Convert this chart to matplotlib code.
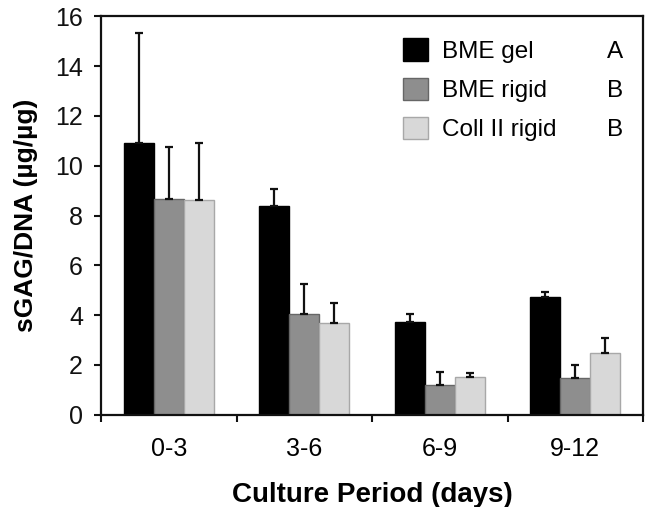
import matplotlib
matplotlib.use("Agg")
import matplotlib.pyplot as plt
import numpy as np

categories = ["0-3", "3-6", "6-9", "9-12"]
series_names = ["BME gel", "BME rigid", "Coll II rigid"]
group_letters = ["A", "B", "B"]
bme_gel = [10.93, 8.39, 3.72, 4.72]
bme_gel_err = [4.39, 0.68, 0.31, 0.19]
bme_rigid = [8.67, 4.03, 1.20, 1.46]
bme_rigid_err = [2.10, 1.21, 0.51, 0.53]
coll_rigid = [8.63, 3.67, 1.52, 2.46]
coll_rigid_err = [2.30, 0.81, 0.16, 0.63]
y_ticks = [0, 2, 4, 6, 8, 10, 12, 14, 16]

plt.rcParams['font.family'] = ['Liberation Sans', 'DejaVu Sans']

fig = plt.figure(figsize=(6.45, 5.07), dpi=100)
ax = fig.add_axes([0.1566, 0.1824, 0.8403, 0.7851])

x = np.arange(len(categories)) + 0.5
w = 0.222
fills = ["#000000", "#8e8e8e", "#d8d8d8"]
edges = ["#000000", "#666666", "#a8a8a8"]
vals = [bme_gel, bme_rigid, coll_rigid]
errs = [bme_gel_err, bme_rigid_err, coll_rigid_err]

handles = []
for i, (v, e) in enumerate(zip(vals, errs)):
    off = (i - 1) * w
    b = ax.bar(x + off, v, width=w, color=fills[i], edgecolor=edges[i],
               linewidth=1.0, label=series_names[i], zorder=2)
    ax.errorbar(x + off, v, yerr=[np.zeros(len(v)), e], fmt='none',
                ecolor="#111111", elinewidth=1.6, capsize=3.2, capthick=1.6,
                zorder=3)
    handles.append(b)

ax.set_xlim(0, 4)
ax.set_ylim(0, 16)
ax.set_yticks(y_ticks)
ax.set_yticklabels([str(t) for t in y_ticks], fontsize=18)
ax.set_xticks(np.arange(0, 5))
ax.set_xticklabels([])
ax.set_xticks(x, minor=True)
ax.set_xticklabels(categories, minor=True, fontsize=18)
ax.tick_params(axis='x', which='minor', length=0, pad=16)
ax.tick_params(axis='both', which='major', direction='out', length=5,
               width=1.5, colors='#111111')
ax.tick_params(axis='y', pad=8)
for s in ax.spines.values():
    s.set_linewidth(1.6)
    s.set_color('#111111')

ax.set_xlabel("Culture Period (days)", fontsize=20, fontweight='bold',
              labelpad=15)
ax.set_ylabel("sGAG/DNA (µg/µg)", fontsize=19, fontweight='bold',
              labelpad=12)

leg = ax.legend(handles=handles, loc='upper left', frameon=False,
                fontsize=17.5, handlelength=1.05, handleheight=1.05,
                handletextpad=0.55, labelspacing=0.6, borderpad=0,
                borderaxespad=0, bbox_to_anchor=(0.557, 0.945))
fig.canvas.draw()
inv = ax.transAxes.inverted()
for txt, letter in zip(leg.get_texts(), group_letters):
    bb = txt.get_window_extent()
    yc = inv.transform((0, (bb.y0 + bb.y1) / 2))[1]
    ax.text(0.948, yc, letter, transform=ax.transAxes, va='center',
            ha='center', fontsize=17.5)

fig.savefig("out.png", dpi=100)
